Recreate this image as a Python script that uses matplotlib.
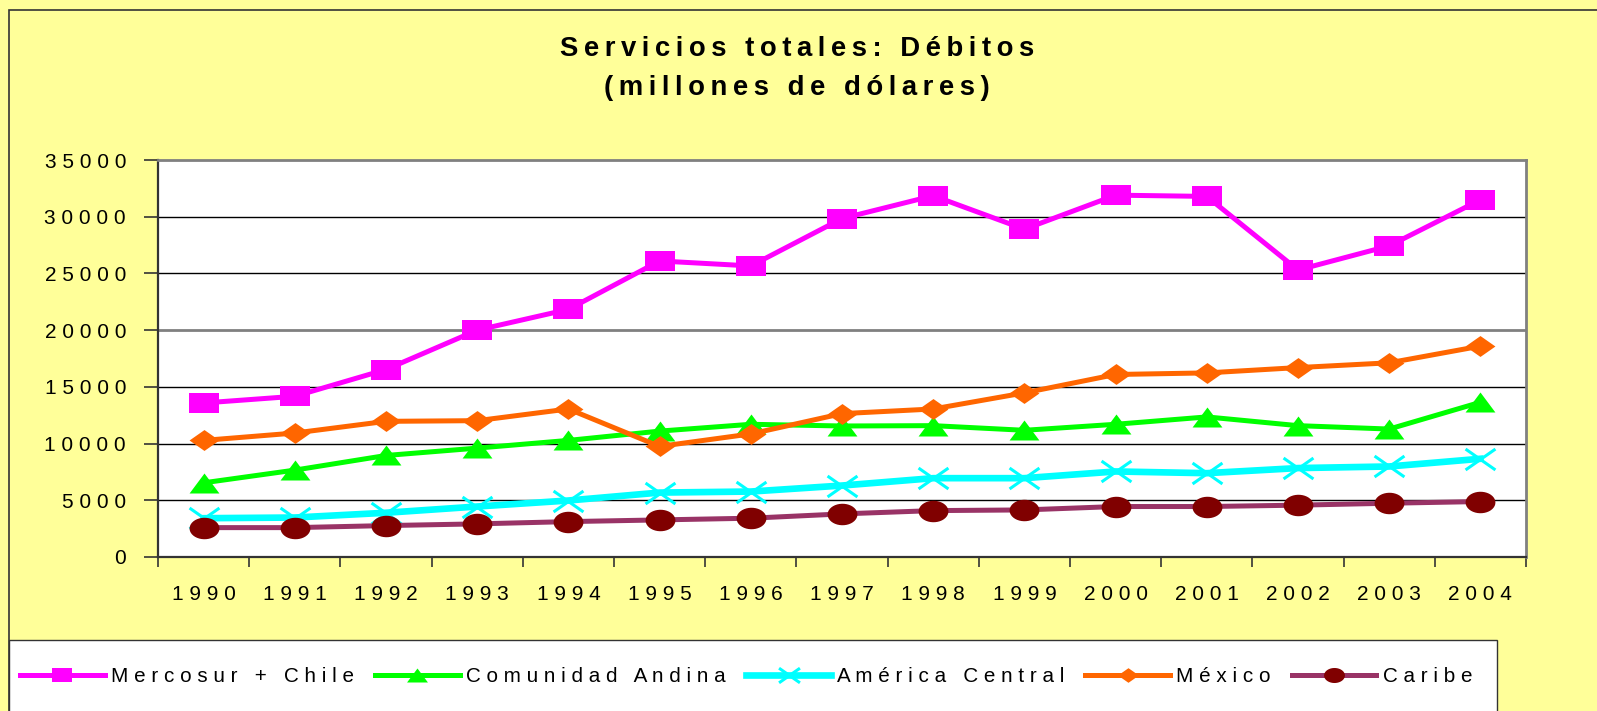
import numpy as np
import matplotlib
matplotlib.use("Agg")
import matplotlib.pyplot as plt
from matplotlib.path import Path
from matplotlib.patches import Rectangle

# data (millones de dolares)
years = [1990, 1991, 1992, 1993, 1994, 1995, 1996, 1997, 1998, 1999, 2000, 2001, 2002, 2003, 2004]
mercosur = [13580, 14170, 16530, 20000, 21830, 26100, 25660, 29840, 31850, 28900, 31900, 31790, 25300, 27430, 31490]
andina = [6540, 7660, 8950, 9600, 10280, 11100, 11700, 11550, 11580, 11170, 11700, 12350, 11580, 11280, 13640]
america_central = [3420, 3480, 3900, 4450, 4980, 5680, 5770, 6300, 6950, 6950, 7540, 7390, 7840, 7980, 8660]
mexico = [10280, 10930, 11960, 12020, 13050, 9750, 10850, 12640, 13050, 14470, 16090, 16230, 16700, 17120, 18590]
caribe = [2590, 2590, 2770, 2920, 3120, 3270, 3420, 3800, 4090, 4150, 4450, 4450, 4570, 4740, 4890]

series_names = ["Mercosur + Chile", "Comunidad Andina", "América Central", "México", "Caribe"]

W, H = 1597, 711
plt.rcParams["font.family"] = ["Liberation Sans", "DejaVu Sans"]


def spaced(s, sep=" "):
    # the original uses wide letter spacing
    return sep.join(s)


# markers are wider than tall in the original
sq = [(-1, -0.7), (1, -0.7), (1, 0.7), (-1, 0.7), (-1, -0.7)]
tri = [(-1, -0.67), (1, -0.67), (0, 0.67), (-1, -0.67)]
dia = [(-1, 0), (0, 0.7), (1, 0), (0, -0.7), (-1, 0)]
t = np.linspace(0, 2 * np.pi, 40)
ell = list(zip(np.cos(t), 0.72 * np.sin(t)))
xmark = Path([(-1, -0.7), (1, 0.7), (-1, 0.7), (1, -0.7)],
             [Path.MOVETO, Path.LINETO, Path.MOVETO, Path.LINETO])

fig = plt.figure(figsize=(W / 100, H / 100), dpi=100, facecolor="#FFFF99")

# outer chart frame (runs off the image on right/bottom)
fig.patches.append(Rectangle((9 / W, -0.2), 1.2, 1.2 - 10 / H, transform=fig.transFigure,
                             fill=False, edgecolor="#333333", lw=1.2, zorder=0))
# legend box
fig.patches.append(Rectangle((9 / W, -0.2), (1497 - 9) / W, 0.2 + (711 - 640) / H,
                             transform=fig.transFigure, facecolor="white",
                             edgecolor="#333333", lw=1.0, zorder=1))

ax = fig.add_axes([158 / W, (H - 557) / H, (1526 - 158) / W, (557 - 160) / H])
ax.set_facecolor("white")

x = np.arange(len(years))
ax.plot(x, mercosur, color="#FF00FF", lw=3.6, marker=sq, ms=21.5, mew=0, mfc="#FF00FF",
        label=spaced(series_names[0]))
ax.plot(x, andina, color="#00FF00", lw=3.6, marker=tri, ms=21.5, mew=0, mfc="#00FF00",
        label=spaced(series_names[1]))
ax.plot(x, america_central, color="#00FFFF", lw=4.8, marker=xmark, ms=21.5, mew=2.2, mec="#00FFFF",
        label=spaced(series_names[2]))
ax.plot(x, mexico, color="#FF6600", lw=3.6, marker=dia, ms=21.5, mew=0, mfc="#FF6600",
        label=spaced(series_names[3]))
ax.plot(x, caribe, color="#993366", lw=3.6, marker=ell, ms=21.5, mew=0, mfc="#800000",
        label=spaced(series_names[4]))

ax.set_xlim(-0.5, len(years) - 0.5)
ax.set_ylim(0, 35000)
yt = np.arange(0, 35001, 5000)
ax.set_yticks(yt)
ax.set_yticklabels([spaced(str(v)) for v in yt])
for v in yt[1:-1]:
    if v == 20000:
        ax.axhline(v, color="#808080", lw=2.0, zorder=0.5)
    else:
        ax.axhline(v, color="black", lw=1.0, zorder=0.5)

ax.set_xticks(np.arange(-0.5, len(years), 1))
ax.set_xticklabels([])
ax.set_xticks(x, minor=True)
ax.set_xticklabels([spaced(str(y)) for y in years], minor=True)
ax.tick_params(axis="x", which="major", direction="out", length=7, width=1.2, color="#333333")
ax.tick_params(axis="x", which="minor", length=0, pad=20, labelsize=15)
ax.tick_params(axis="y", direction="out", length=10, width=1.2, color="#333333", pad=13, labelsize=15)

for s in ["left", "bottom"]:
    ax.spines[s].set_color("#333333")
    ax.spines[s].set_linewidth(1.6)
for s in ["top", "right"]:
    ax.spines[s].set_color("#808080")
    ax.spines[s].set_linewidth(2.0)

thin = "\u2009"
fig.text(797 / W, 1 - 49 / H, spaced("Servicios totales: Débitos", thin), ha="center", va="center",
         fontsize=19.8, fontweight="bold")
fig.text(797 / W, 1 - 88 / H, spaced("(millones de dólares)", thin), ha="center", va="center",
         fontsize=19.8, fontweight="bold")

leg = fig.legend(loc="center left", bbox_to_anchor=(20 / W, 1 - 677 / H), ncol=5, frameon=False,
                 fontsize=14.9, handlelength=4.1, handletextpad=0.3, columnspacing=1.0,
                 markerscale=0.7, borderpad=0, borderaxespad=0)
leg.set_zorder(5)

fig.savefig("out.png", dpi=100, facecolor=fig.get_facecolor())
